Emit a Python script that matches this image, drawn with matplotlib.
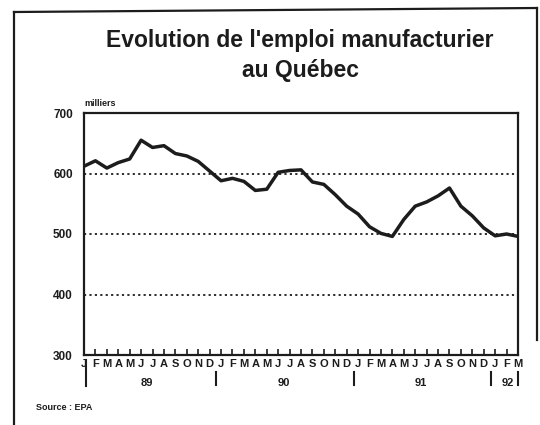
import matplotlib
matplotlib.use("Agg")
import matplotlib.pyplot as plt
from matplotlib.lines import Line2D

# Emploi manufacturier au Québec, en milliers, janv. 1989 à mars 1992
months = ["J", "F", "M", "A", "M", "J", "J", "A", "S", "O", "N", "D"] * 3 + ["J", "F", "M"]
years = ["89", "90", "91", "92"]
emploi = [612, 621, 609, 618, 624, 655, 643, 646, 633, 629, 620, 604,
          588, 592, 587, 572, 574, 602, 605, 606, 586, 582, 565, 546,
          533, 512, 501, 496, 524, 546, 553, 563, 576, 546, 530, 510,
          497, 500, 496]
yticks = [300, 400, 500, 600, 700]

ink = "#1c1c1c"
plt.rcParams["font.family"] = ["Liberation Sans", "DejaVu Sans"]

fig = plt.figure(figsize=(5.4, 4.25), dpi=100)
ax = fig.add_axes([84 / 540, 1 - 355 / 425, 434 / 540, 242 / 425])

x = list(range(len(emploi)))
ax.plot(x, emploi, color=ink, lw=2.5, solid_joinstyle="round")

ax.set_xlim(0, len(emploi) - 1)
ax.set_ylim(300, 700)
for v in yticks[1:-1]:
    ax.axhline(v, color=ink, lw=1.3, ls=(0, (1.2, 1.8)))

ax.set_yticks(yticks)
ax.set_yticklabels([str(v) for v in yticks], fontsize=8.5, fontweight="bold", color=ink)
ax.tick_params(axis="y", length=0, pad=8)

ax.set_xticks(x)
ax.set_xticklabels(months, fontsize=8, fontweight="bold", color=ink)
ax.tick_params(axis="x", direction="in", length=4, width=1.2, color=ink, pad=3)

for s in ax.spines.values():
    s.set_color(ink)
    s.set_linewidth(1.6)

# années et séparateurs sous l'axe
tr = ax.get_xaxis_transform()
year_pos = [5.5, 17.5, 29.5, 37.1]
for yr, xp in zip(years, year_pos):
    ax.text(xp, -0.115, yr, transform=tr, ha="center", va="center",
            fontsize=8, fontweight="bold", color=ink)
ax.add_line(Line2D([0.2, 0.2], [-0.02, -0.13], transform=tr, color=ink, lw=1.5, clip_on=False))
for xp in [11.6, 23.6, 35.6, 38.0]:
    ax.add_line(Line2D([xp, xp], [-0.07, -0.125], transform=tr, color=ink, lw=1.5, clip_on=False))

ax.text(0.0, 1.04, "milliers", transform=ax.transAxes, fontsize=6.5,
        fontweight="bold", color=ink, va="center", ha="left")

fig.text(300 / 540, 1 - 40 / 425, "Evolution de l'emploi manufacturier",
         ha="center", va="center", fontsize=16.5, fontweight="bold", color=ink)
fig.text(300 / 540, 1 - 70 / 425, "au Québec",
         ha="center", va="center", fontsize=16.5, fontweight="bold", color=ink)
fig.text(36 / 540, 1 - 408 / 425, "Source : EPA", ha="left", va="center",
         fontsize=6.5, fontweight="bold", color=ink)

# cadre de la page
fig.add_artist(Line2D([14 / 540, 14 / 540], [0, 1 - 12 / 425], color=ink, lw=1.6))
fig.add_artist(Line2D([14 / 540, 537 / 540], [1 - 12 / 425, 1 - 8 / 425], color=ink, lw=1.6))
fig.add_artist(Line2D([537 / 540, 537 / 540], [1 - 8 / 425, 1 - 340 / 425], color=ink, lw=1.6))

fig.savefig("out.png", dpi=100, facecolor="white")
